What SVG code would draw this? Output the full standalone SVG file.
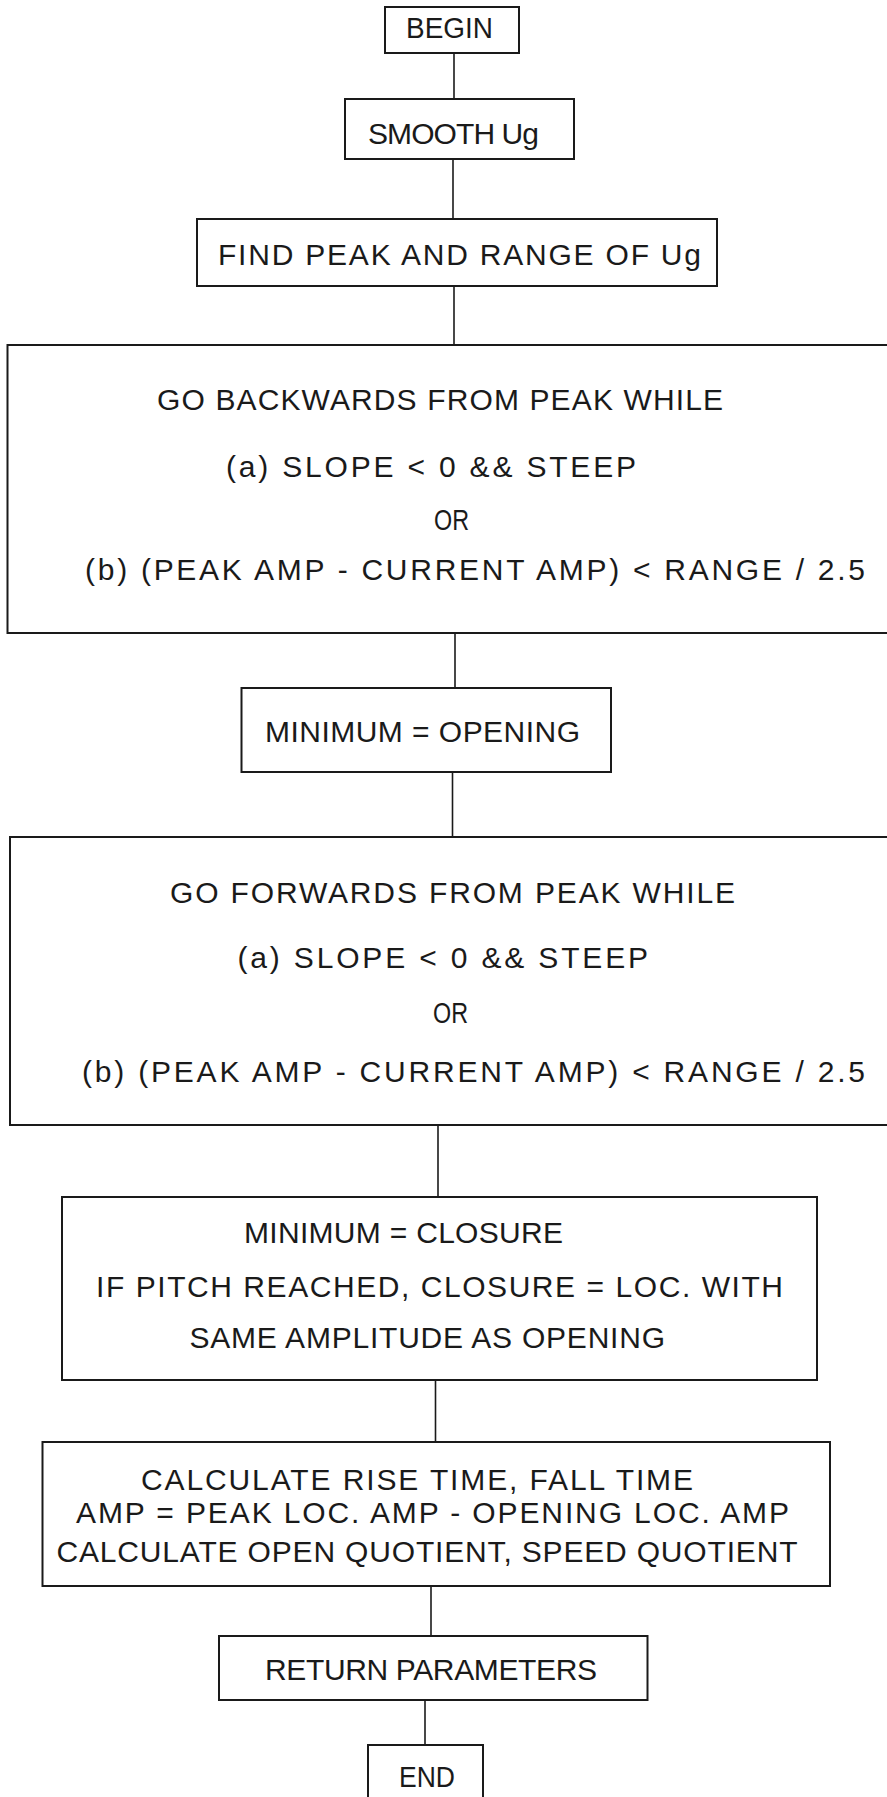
<svg xmlns="http://www.w3.org/2000/svg" width="887" height="1797" viewBox="0 0 887 1797">
<style>
rect.box{fill:none;stroke:#1a1a1a;stroke-width:2}
line.c{stroke:#1a1a1a;stroke-width:1.6}
text{font-family:"Liberation Sans","DejaVu Sans",sans-serif;font-size:30px;fill:#1a1a1a}
</style>
<rect width="887" height="1797" fill="#ffffff"/>
<g id="connectors">
<line class="c" x1="454" y1="53" x2="454" y2="99"/>
<line class="c" x1="453" y1="159" x2="453" y2="219"/>
<line class="c" x1="454" y1="286" x2="454" y2="345"/>
<line class="c" x1="455" y1="633" x2="455" y2="688"/>
<line class="c" x1="452.5" y1="772" x2="452.5" y2="837"/>
<line class="c" x1="438" y1="1125" x2="438" y2="1197"/>
<line class="c" x1="435.5" y1="1380" x2="435.5" y2="1442"/>
<line class="c" x1="431" y1="1586" x2="431" y2="1636"/>
<line class="c" x1="425" y1="1700" x2="425" y2="1745"/>
</g>
<g id="begin">
<rect class="box" x="385" y="7" width="134" height="46"/>
<text x="406" y="38" textLength="87" lengthAdjust="spacingAndGlyphs">BEGIN</text>
</g>
<g id="smooth">
<rect class="box" x="345" y="99" width="229" height="60"/>
<text x="368" y="144" textLength="171">SMOOTH Ug</text>
</g>
<g id="find">
<rect class="box" x="197" y="219" width="520" height="67"/>
<text x="218" y="265" textLength="483">FIND PEAK AND RANGE OF Ug</text>
</g>
<g id="backwards">
<rect class="box" x="7.5" y="345" width="895" height="288"/>
<text x="157" y="410" textLength="566">GO BACKWARDS FROM PEAK WHILE</text>
<text x="226" y="477" textLength="410">(a) SLOPE &lt; 0 &amp;&amp; STEEP</text>
<text x="434" y="530" textLength="35" lengthAdjust="spacingAndGlyphs">OR</text>
<text x="85" y="580" textLength="780">(b) (PEAK AMP - CURRENT AMP) &lt; RANGE / 2.5</text>
</g>
<g id="min-opening">
<rect class="box" x="241.5" y="688" width="369.5" height="84"/>
<text x="265" y="742" textLength="315">MINIMUM = OPENING</text>
</g>
<g id="forwards">
<rect class="box" x="10" y="837" width="895" height="288"/>
<text x="170" y="903" textLength="565">GO FORWARDS FROM PEAK WHILE</text>
<text x="237.5" y="968" textLength="410.5">(a) SLOPE &lt; 0 &amp;&amp; STEEP</text>
<text x="433" y="1023" textLength="35" lengthAdjust="spacingAndGlyphs">OR</text>
<text x="82" y="1082" textLength="783">(b) (PEAK AMP - CURRENT AMP) &lt; RANGE / 2.5</text>
</g>
<g id="min-closure">
<rect class="box" x="62" y="1197" width="755" height="183"/>
<text x="244" y="1243" textLength="319">MINIMUM = CLOSURE</text>
<text x="96" y="1297" textLength="687">IF PITCH REACHED, CLOSURE = LOC. WITH</text>
<text x="189.5" y="1348" textLength="475.5">SAME AMPLITUDE AS OPENING</text>
</g>
<g id="calculate">
<rect class="box" x="42.5" y="1442" width="787.5" height="144"/>
<text x="141" y="1490" textLength="552">CALCULATE RISE TIME, FALL TIME</text>
<text x="76" y="1523" textLength="713">AMP = PEAK LOC. AMP - OPENING LOC. AMP</text>
<text x="56.5" y="1562" textLength="741">CALCULATE OPEN QUOTIENT, SPEED QUOTIENT</text>
</g>
<g id="return">
<rect class="box" x="219" y="1636" width="428.5" height="64"/>
<text x="265" y="1680" textLength="332">RETURN PARAMETERS</text>
</g>
<g id="end">
<rect class="box" x="368" y="1745" width="115" height="70"/>
<text x="399" y="1787" textLength="56" lengthAdjust="spacingAndGlyphs">END</text>
</g>
</svg>
